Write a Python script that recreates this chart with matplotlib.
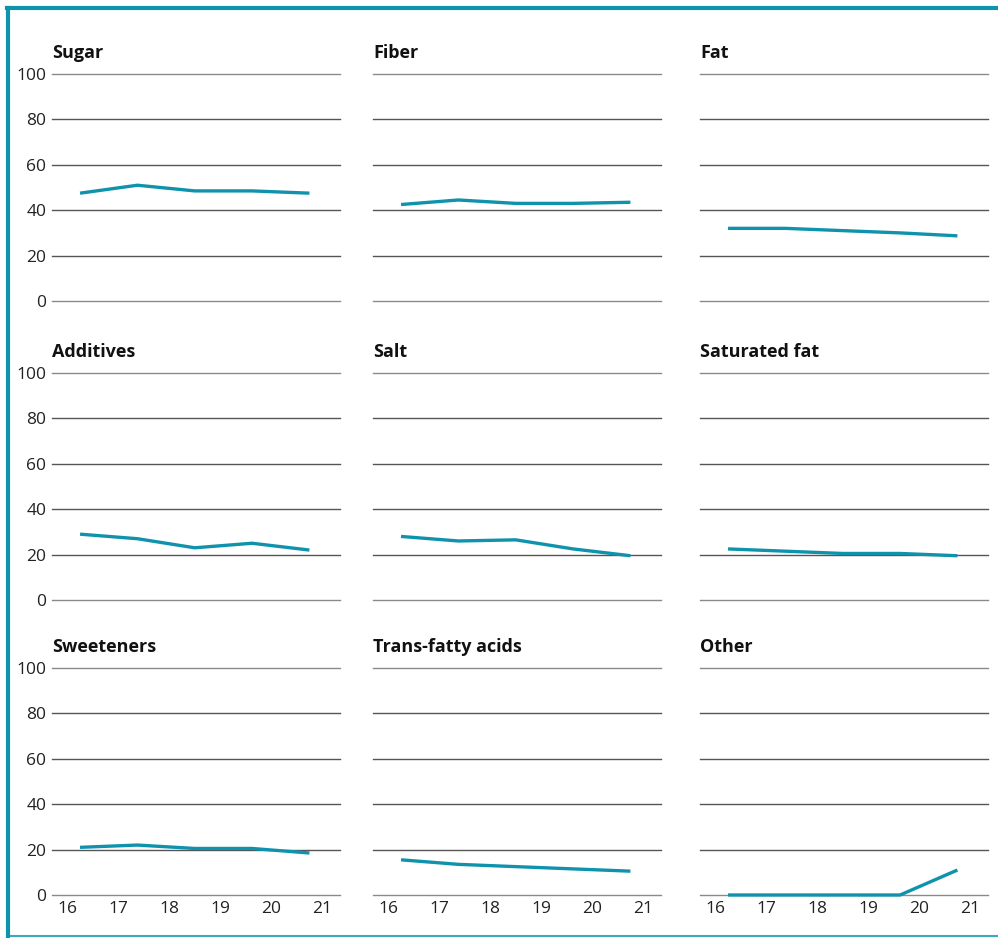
"""Small multiples: share of products mentioning each nutrient, 2016-2021."""

import matplotlib.pyplot as plt
from matplotlib.lines import Line2D

# data
years = [16.25, 17.375, 18.5, 19.625, 20.75]
titles = [
    "Sugar", "Fiber", "Fat",
    "Additives", "Salt", "Saturated fat",
    "Sweeteners", "Trans-fatty acids", "Other",
]
sugar = [47.5, 51, 48.5, 48.5, 47.5]
fiber = [42.5, 44.5, 43, 43, 43.5]
fat = [32, 32, 31, 30, 28.7]
additives = [29, 27, 23, 25, 22]
salt = [28, 26, 26.5, 22.5, 19.5]
saturated_fat = [22.5, 21.5, 20.5, 20.5, 19.5]
sweeteners = [21, 22, 20.5, 20.5, 18.5]
trans_fatty = [15.5, 13.5, 12.5, 11.5, 10.5]
other = [0, 0, 0, 0, 11]
series = [sugar, fiber, fat, additives, salt, saturated_fat,
          sweeteners, trans_fatty, other]
y_ticks = [0, 20, 40, 60, 80, 100]
x_ticks = [16, 17, 18, 19, 20, 21]

TEAL = "#0f93ad"
GRID = "#555555"

plt.rcParams["font.family"] = ["Open Sans", "DejaVu Sans"]

W, H = 998, 938
fig = plt.figure(figsize=(W / 100, H / 100), dpi=100)

col_left = [52, 373, 700]
row_top = [74, 373, 668]
ax_w, ax_h = 288, 227

for i, (title, vals) in enumerate(zip(titles, series)):
    r, c = divmod(i, 3)
    left = col_left[c] / W
    bottom = 1 - (row_top[r] + ax_h) / H
    ax = fig.add_axes([left, bottom, ax_w / W, ax_h / H])
    ax.plot(years, vals, color=TEAL, lw=2.4, solid_capstyle="butt",
            clip_on=False, zorder=3)
    ax.set_xlim(15.7, 21.35)
    ax.set_ylim(0, 100)
    ax.set_yticks(y_ticks)
    ax.set_xticks(x_ticks)
    ax.grid(axis="y", color=GRID, lw=1)
    for gl in ax.get_ygridlines():
        gl.set_clip_on(False)
    # outer gridlines are a lighter grey in the original
    ax.get_ygridlines()[0].set_color("#8a8a8a")
    ax.get_ygridlines()[-1].set_color("#8a8a8a")
    ax.set_axisbelow(True)
    for s in ax.spines.values():
        s.set_visible(False)
    ax.tick_params(length=0, labelsize=12.5, colors="#222222", pad=4)
    if c != 0:
        ax.set_yticklabels([])
    if r != 2:
        ax.set_xticklabels([])
    ax.text(0, 1.055, title, transform=ax.transAxes, fontsize=13,
            fontweight="bold", ha="left", va="bottom", color="#111111")

# teal frame: left and top heavy, bottom thin
fig.add_artist(Line2D([8 / W, 8 / W], [1 - 8 / H, 1 - 936 / H],
                      transform=fig.transFigure, color=TEAL, lw=3))
fig.add_artist(Line2D([6.5 / W, 1], [1 - 8.5 / H, 1 - 8.5 / H],
                      transform=fig.transFigure, color=TEAL, lw=3))
fig.add_artist(Line2D([8 / W, 1], [1 - 936 / H, 1 - 936 / H],
                      transform=fig.transFigure, color=TEAL, lw=1.5, alpha=0.8))

fig.savefig("out.png", dpi=100)
